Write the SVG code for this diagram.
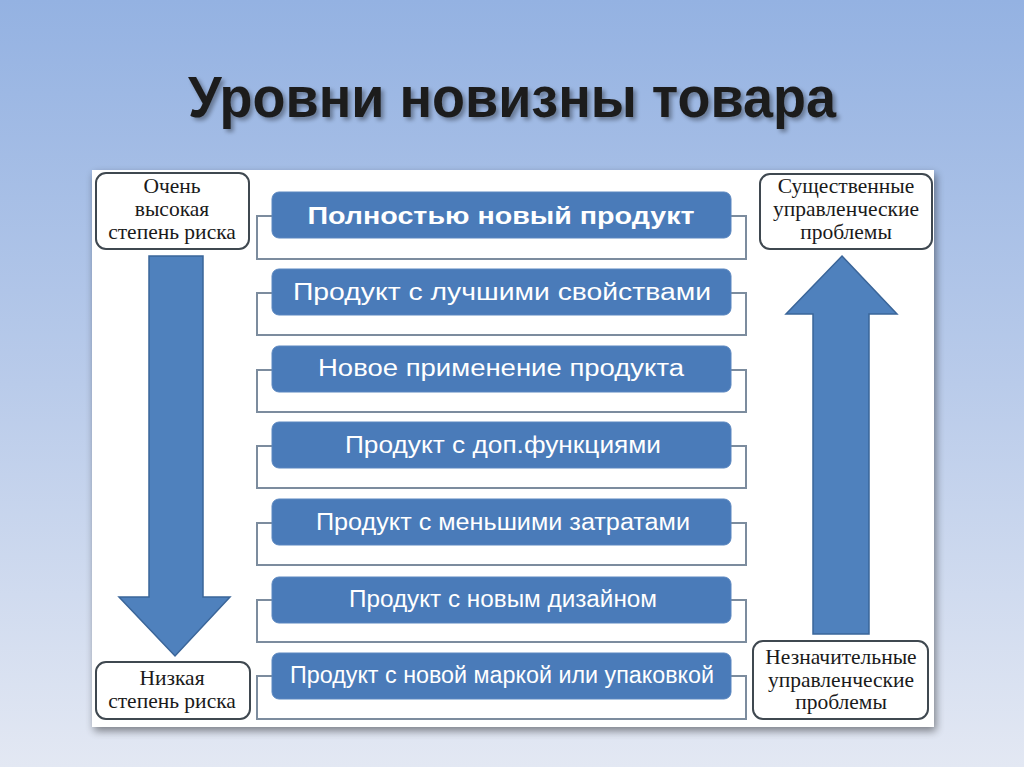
<svg xmlns="http://www.w3.org/2000/svg" width="1024" height="767" viewBox="0 0 1024 767">
<defs>
<linearGradient id="bg" x1="0" y1="0" x2="0" y2="1">
<stop offset="0" stop-color="#94b2e2"/>
<stop offset="0.5" stop-color="#b9cbea"/>
<stop offset="1" stop-color="#e3e8f3"/>
</linearGradient>
<filter id="sh" x="-5%" y="-5%" width="110%" height="110%">
<feGaussianBlur in="SourceAlpha" stdDeviation="4"/>
<feOffset dx="2" dy="4"/>
<feComponentTransfer><feFuncA type="linear" slope="0.45"/></feComponentTransfer>
<feMerge><feMergeNode/><feMergeNode in="SourceGraphic"/></feMerge>
</filter>
<filter id="tsh" x="-5%" y="-20%" width="110%" height="140%">
<feGaussianBlur in="SourceAlpha" stdDeviation="2"/>
<feOffset dx="3" dy="3"/>
<feComponentTransfer><feFuncA type="linear" slope="0.35"/></feComponentTransfer>
<feMerge><feMergeNode/><feMergeNode in="SourceGraphic"/></feMerge>
</filter>
</defs>
<style>
.item{fill:#4a7bb9;stroke:#5b87c0;stroke-width:1}
.itxt{font-family:"Liberation Sans",Arial,sans-serif;font-size:23px;fill:#ffffff;text-anchor:middle}
.brk{fill:none;stroke:#7c8c9e;stroke-width:2}
.box{fill:#ffffff;stroke:#3f4850;stroke-width:2}
.btxt{font-family:"Liberation Serif","Times New Roman",serif;font-size:21.5px;fill:#1a1a1a;text-anchor:middle}
.arr{fill:#4f81bd;stroke:#3a6599;stroke-width:1.5}
</style>
<rect x="0" y="0" width="1024" height="767" fill="url(#bg)"/>
<text x="512" y="117" font-family="Liberation Sans,Arial,sans-serif" font-weight="bold" font-size="58" fill="#1e1e1e" text-anchor="middle" textLength="648" lengthAdjust="spacingAndGlyphs" filter="url(#tsh)">Уровни новизны товара</text>
<rect x="92" y="170" width="842" height="557" fill="#ffffff" filter="url(#sh)"/>

<g id="connectors">
<path class="brk" d="M272,216 H257 V259 H746 V216 H731"/>
<path class="brk" d="M272,293 H257 V335 H746 V293 H731"/>
<path class="brk" d="M272,370 H257 V412 H746 V370 H731"/>
<path class="brk" d="M272,446 H257 V488 H746 V446 H731"/>
<path class="brk" d="M272,523 H257 V565 H746 V523 H731"/>
<path class="brk" d="M272,600 H257 V642 H746 V600 H731"/>
<path class="brk" d="M272,676 H257 V719 H746 V676 H731"/>
<polygon id="arrow-down" class="arr" points="149,256 203,256 203,597 230,597 175,656 119,597 149,597"/>
<polygon id="arrow-up" class="arr" points="842,256 897,314 869,314 869,634 813,634 813,314 786,314"/>
</g>

<g id="item1"><rect class="item" x="272" y="192" width="459" height="46" rx="7"/><text class="itxt" x="501" y="224" font-weight="bold" font-size="25" textLength="387" lengthAdjust="spacingAndGlyphs">Полностью новый продукт</text></g>
<g id="item2"><rect class="item" x="272" y="269" width="459" height="46" rx="7"/><text class="itxt" x="502" y="300" textLength="418" lengthAdjust="spacingAndGlyphs">Продукт с лучшими свойствами</text></g>
<g id="item3"><rect class="item" x="272" y="346" width="459" height="46" rx="7"/><text class="itxt" x="501" y="376" textLength="366" lengthAdjust="spacingAndGlyphs">Новое применение продукта</text></g>
<g id="item4"><rect class="item" x="272" y="422" width="459" height="46" rx="7"/><text class="itxt" x="503" y="453" textLength="316" lengthAdjust="spacingAndGlyphs">Продукт с доп.функциями</text></g>
<g id="item5"><rect class="item" x="272" y="499" width="459" height="46" rx="7"/><text class="itxt" x="503" y="530" textLength="374" lengthAdjust="spacingAndGlyphs">Продукт с меньшими затратами</text></g>
<g id="item6"><rect class="item" x="272" y="577" width="459" height="46" rx="7"/><text class="itxt" x="503" y="607" textLength="308" lengthAdjust="spacingAndGlyphs">Продукт с новым дизайном</text></g>
<g id="item7"><rect class="item" x="272" y="653" width="459" height="46" rx="7"/><text class="itxt" x="502" y="683" textLength="424" lengthAdjust="spacingAndGlyphs">Продукт с новой маркой или упаковкой</text></g>

<g id="high-risk"><rect class="box" x="96" y="173" width="153" height="76" rx="10"/>
<text class="btxt" x="172" y="193">Очень</text><text class="btxt" x="172" y="216">высокая</text><text class="btxt" x="172" y="239">степень риска</text></g>
<g id="low-risk"><rect class="box" x="96" y="662" width="154" height="57" rx="10"/>
<text class="btxt" x="172" y="685">Низкая</text><text class="btxt" x="172" y="708">степень риска</text></g>
<g id="major-problems"><rect class="box" x="760" y="174" width="172" height="75" rx="10"/>
<text class="btxt" x="846" y="193">Существенные</text><text class="btxt" x="846" y="216">управленческие</text><text class="btxt" x="846" y="239">проблемы</text></g>
<g id="minor-problems"><rect class="box" x="753" y="641" width="175" height="78" rx="10"/>
<text class="btxt" x="841" y="664">Незначительные</text><text class="btxt" x="841" y="687">управленческие</text><text class="btxt" x="841" y="709">проблемы</text></g>
</svg>
